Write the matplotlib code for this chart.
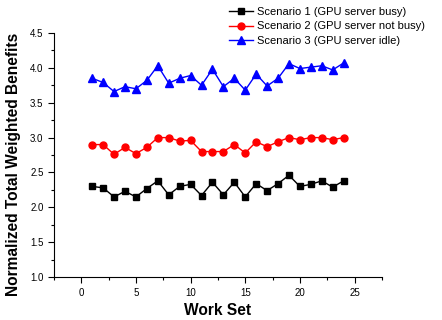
import matplotlib.pyplot as plt
import numpy as np
from matplotlib.ticker import MultipleLocator

plt.rcParams['font.family'] = ['Liberation Sans', 'DejaVu Sans']

work_set = np.arange(1, 25)
busy = [2.30, 2.28, 2.15, 2.23, 2.15, 2.27, 2.38, 2.18, 2.30, 2.33, 2.17, 2.36,
        2.18, 2.36, 2.15, 2.34, 2.24, 2.34, 2.46, 2.30, 2.33, 2.38, 2.29, 2.38]
not_busy = [2.90, 2.90, 2.76, 2.86, 2.77, 2.86, 3.00, 3.00, 2.95, 2.96, 2.80, 2.80,
            2.80, 2.90, 2.78, 2.94, 2.87, 2.94, 3.00, 2.97, 3.00, 3.00, 2.97, 3.00]
idle = [3.85, 3.79, 3.66, 3.73, 3.70, 3.82, 4.03, 3.78, 3.85, 3.89, 3.75, 3.98,
        3.73, 3.85, 3.68, 3.91, 3.74, 3.85, 4.06, 3.99, 4.01, 4.03, 3.97, 4.07]
labels = ['Scenario 1 (GPU server busy)', 'Scenario 2 (GPU server not busy)',
          'Scenario 3 (GPU server idle)']

fig = plt.figure(figsize=(4.42, 3.2), dpi=100)
ax = fig.add_axes([0.122, 0.134, 0.742, 0.763])

ax.plot(work_set, busy, color='black', marker='s', markersize=4.3, linewidth=1, label=labels[0])
ax.plot(work_set, not_busy, color='red', marker='o', markersize=5, linewidth=1, label=labels[1])
ax.plot(work_set, idle, color='blue', marker='^', markersize=5.5, linewidth=1, label=labels[2])

ax.set_xlim(-2.5, 27.5)
ax.set_ylim(1.0, 4.5)
ax.xaxis.set_major_locator(MultipleLocator(5))
ax.xaxis.set_minor_locator(MultipleLocator(2.5))
ax.yaxis.set_major_locator(MultipleLocator(0.5))
ax.yaxis.set_minor_locator(MultipleLocator(0.25))
ax.yaxis.set_major_formatter(plt.FormatStrFormatter('%.1f'))
ax.spines['top'].set_visible(False)
ax.spines['right'].set_visible(False)
ax.tick_params(which='both', direction='out', labelsize=7, width=0.8)
ax.tick_params(which='major', length=4)
ax.tick_params(which='minor', length=2.5)

ax.set_xlabel('Work Set', fontsize=11.2, fontweight='bold')
ax.set_ylabel('Normalized Total Weighted Benefits', fontsize=11.2, fontweight='bold')
ax.yaxis.set_label_coords(-0.1, 0.46)

fig.legend(loc='upper left', bbox_to_anchor=(0.503, 1.0), frameon=False, fontsize=8,
           handlelength=2.2, handletextpad=0.3, labelspacing=0.43, borderaxespad=0.2)

fig.savefig('out.png', dpi=100)
